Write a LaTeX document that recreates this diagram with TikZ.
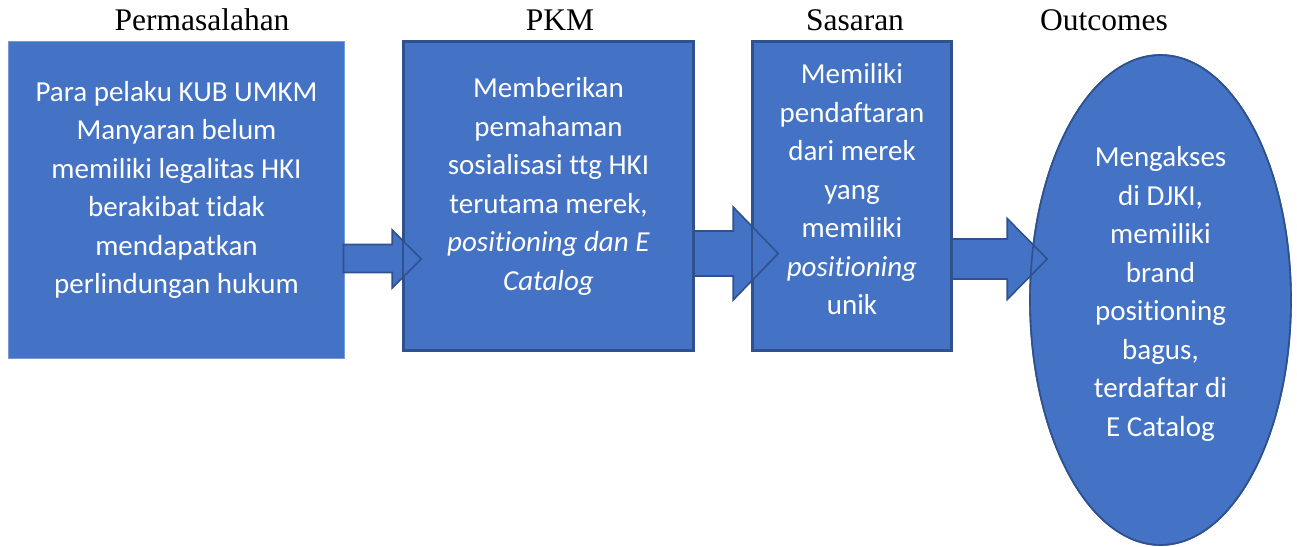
\documentclass[tikz,border=0pt]{standalone}
\usepackage{fontspec}
\setmainfont{Liberation Serif}
\newfontfamily\bodyfont[Ligatures=NoCommon]{Carlito}
\usetikzlibrary{calc,shapes.geometric}
\definecolor{boxfill}{HTML}{4472C4}
\definecolor{boxline}{HTML}{2F528F}
\definecolor{paleline}{HTML}{7A9AD6}
\newcommand\blockarrow[5]{%
  \draw[arrowshape] let \p1=(#1), \p2=(#2) in
    (\x1,\y1+#3) -- (\x2-#5,\y1+#3) -- (\x2-#5,\y2+#4) -- (\x2,\y2)
    -- (\x2-#5,\y2-#4) -- (\x2-#5,\y1-#3) -- (\x1,\y1-#3) -- cycle;}
\begin{document}
\begin{tikzpicture}[x=1pt,y=-1pt,
  title/.style={anchor=base,font=\fontsize{31.5}{36}\selectfont,inner sep=0pt},
  bodytext/.style={align=center,text=white,inner sep=0pt,
    font=\bodyfont\fontsize{29}{38.5}\selectfont},
  plainbox/.style={rectangle,fill=boxfill,draw=paleline,line width=1pt,inner sep=0pt},
  framedbox/.style={rectangle,fill=boxfill,draw=boxline,line width=1.6pt,inner sep=0pt},
  oval/.style={ellipse,fill=boxfill,draw=boxline,line width=1.6pt,inner sep=0pt},
  arrowshape/.style={fill=boxfill,draw=boxline,line width=1.6pt,line join=miter},
  border/.style={draw=boxline,line width=1.6pt}]
\useasboundingbox (0,0) rectangle (1297,546);

% titles
\node[title] (h1) at (202,30) {Permasalahan};
\node[title] (h2) at (560,30) {PKM};
\node[title] (h3) at (855,30) {Sasaran};
\node[title] (h4) at (1104,30) {Outcomes};

% shapes
\node[plainbox,minimum width=336pt,minimum height=317pt] (b1) at (176.5,199.5) {};
\node[framedbox,minimum width=289pt,minimum height=308pt] (b2) at (548.5,196) {};
\node[framedbox,minimum width=198pt,minimum height=308pt] (b3) at (852,196) {};
\node[oval,minimum width=261pt,minimum height=490pt] (e) at (1160.5,300) {};

% block arrows
\path (b1.east) ++(-1.5,59) coordinate (a1s);
\path (b2.west) ++(18,63) coordinate (a1t);
\path (b2.east) ++(-1,57.5) coordinate (a2s);
\path (b3.west) ++(26,57.5) coordinate (a2t);
\path (b3.east) ++(0,63) coordinate (a3s);
\path (e.west) ++(18,-41) coordinate (a3t);
\blockarrow{a1s}{a1t}{14}{29}{29}
\blockarrow{a2s}{a2t}{22.5}{46.5}{45}
\blockarrow{a3s}{a3t}{20}{40.5}{40}

% borders over the arrows
\draw[border] (b2.south west) rectangle (b2.north east);
\draw[border] (b3.south west) rectangle (b3.north east);
\draw[border] (e.center) ellipse [x radius=130.5pt, y radius=245pt];

% texts
\node[bodytext] (t1) at (176.5,190) {Para pelaku KUB UMKM\\Manyaran belum\\memiliki legalitas HKI\\berakibat tidak\\mendapatkan\\perlindungan hukum};
\node[bodytext] (t2) at (548.5,186.5) {Memberikan\\pemahaman\\sosialisasi ttg HKI\\terutama merek,\\\textit{positioning dan E}\\\textit{Catalog}};
\node[bodytext] (t3) at (852,189.5) {Memiliki\\pendaftaran\\dari merek\\yang\\memiliki\\\textit{positioning}\\unik};
\node[bodytext] (t4) at (1160.5,294) {Mengakses\\di DJKI,\\memiliki\\brand\\positioning\\bagus,\\terdaftar di\\E Catalog};
\end{tikzpicture}
\end{document}
